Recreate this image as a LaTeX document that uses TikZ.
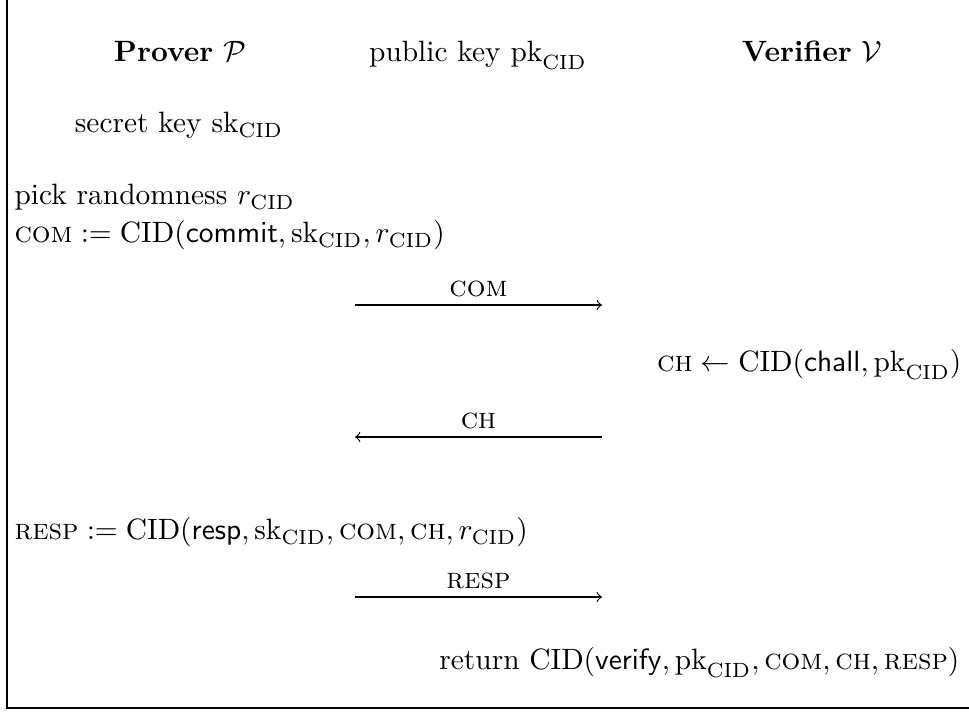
\documentclass[tikz,border=0pt]{standalone}
\usepackage{amsmath,amssymb}
\usepackage{tikz}
\usetikzlibrary{arrows,positioning}
\newcommand{\CIDfn}{\mathrm{CID}}
\newcommand{\skCID}{\mathrm{sk}_{\mathrm{CID}}}
\newcommand{\pkCID}{\mathrm{pk}_{\mathrm{CID}}}
\newcommand{\rCID}{r_{\mathrm{CID}}}
\newcommand{\sccom}{\text{\textsc{com}}}
\newcommand{\scch}{\text{\textsc{ch}}}
\newcommand{\scresp}{\text{\textsc{resp}}}
\tikzstyle{mid} = [anchor=base, inner sep=0pt]
\tikzstyle{pline} = [anchor=base west, inner sep=0pt]
\tikzstyle{vline} = [anchor=base east, inner sep=0pt]
\tikzstyle{lbl} = [above, inner sep=2.5pt]
\tikzstyle{msg} = [->,>=to]
\tikzstyle{frame} = [line width=1pt]
\begin{document}
\begin{tikzpicture}[x=0.34pt,y=-0.34pt]
\useasboundingbox (0,0) rectangle (969,713);
\draw [frame] (7,0) -- (7,708) -- (969,708);

\node (prover) [mid] at (180,62) {\textbf{Prover} $\mathcal{P}$};
\node (pubkey) [mid] at (478,62) {public key $\pkCID$};
\node (verifier) [mid] at (812,62) {\textbf{Verifier} $\mathcal{V}$};

\node (seckey) [mid] at (179,133) {secret key $\skCID$};
\node (pick) [pline] at (14,205) {pick randomness $\rCID$};
\node (com) [pline] at (14,243) {$\sccom := \CIDfn(\mathsf{commit}, \skCID, \rCID)$};

\coordinate (comA) at (355,305);
\coordinate (comB) at (602,305);
\draw [msg] (comA) -- node [lbl] {\textsc{com}} (comB);

\node (chall) [vline] at (962,372) {$\scch \leftarrow \CIDfn(\mathsf{chall}, \pkCID)$};

\coordinate (chA) at (355,437);
\coordinate (chB) at (602,437);
\draw [msg] (chB) -- node [lbl] {\textsc{ch}} (chA);

\node (resp) [pline] at (14,540) {$\scresp := \CIDfn(\mathsf{resp}, \skCID, \sccom, \scch, \rCID)$};

\coordinate (respA) at (355,597);
\coordinate (respB) at (602,597);
\draw [msg] (respA) -- node [lbl] {\textsc{resp}} (respB);

\node (ret) [vline] at (960,670) {return $\CIDfn(\mathsf{verify}, \pkCID, \sccom, \scch, \scresp)$};
\end{tikzpicture}
\end{document}
